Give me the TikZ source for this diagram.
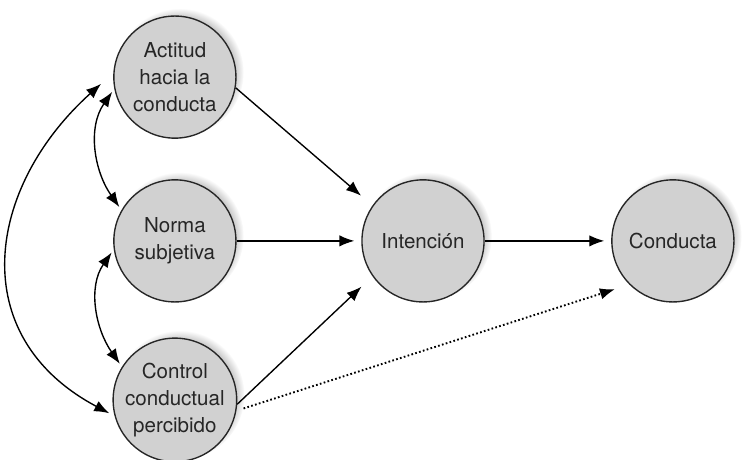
\documentclass[tikz,border=0pt]{standalone}
\usepackage{fontspec}
\setmainfont{TeX Gyre Heros}
\usepackage{tikz}
\usetikzlibrary{arrows.meta, shadows}
\colorlet{TRAfill}{black!18}
\colorlet{TRAline}{black!85}
\colorlet{TRAtext}{black!85}

\begin{document}
\begin{tikzpicture}[
    var/.style={circle, draw=TRAline, line width=1.3pt, fill=TRAfill,
      minimum size=4.07cm, inner sep=0pt, align=center, text=TRAtext,
      font=\fontsize{19.5}{25.5}\selectfont,
      circular drop shadow={shadow xshift=0.15cm, shadow yshift=0.15cm,
        shadow scale=1.05, opacity=0.45}},
    link/.style={line width=1.3pt, -{Latex[length=0.5cm, width=0.38cm]}},
    biarrow/.style={line width=1.3pt, {Latex[length=0.5cm, width=0.38cm]}-{Latex[length=0.5cm, width=0.38cm]}},
  ]
        \useasboundingbox (0,0) rectangle (24.8,15.3);
        % the five variables
        \node[var] (act) at (5.83,12.73) {Actitud\\hacia la\\conducta};
        \node[var] (nor) at (5.83,7.27) {Norma\\subjetiva};
        \node[var] (ctl) at (5.83,1.97) {Control\\conductual\\percibido};
        \node[var] (int) at (14.1,7.27) {Intención};
        \node[var] (con) at (22.43,7.27) {Conducta};
        % paths to the intention and the behaviour
        \draw[link, shorten >=0.5cm] (act.-10) -- (int.145);
        \draw[link, shorten >=0.23cm] (nor.east) -- (int.west);
        \draw[link, shorten >=0.5cm] (ctl.-4) -- (int.215);
        \draw[link, shorten >=0.23cm] (int.east) -- (con.west);
        \draw[link, dash pattern=on 1.6pt off 2.2pt, line width=1.8pt, shorten <=0.25cm, shorten >=0.5cm] (ctl.-10) -- (con.225);
        % correlations between the predictors
        \draw[biarrow, shorten <=0.12cm, shorten >=0.12cm] (act.191) to[out=235, in=125] (nor.150);
        \draw[biarrow, shorten <=0.12cm, shorten >=0.12cm] (nor.188) to[out=235, in=125] (ctl.148);
        \draw[biarrow, shorten <=0.55cm, shorten >=0.2cm] (act.176) to[out=222, in=152, looseness=1.27] (ctl.195);
      \end{tikzpicture}
\end{document}
